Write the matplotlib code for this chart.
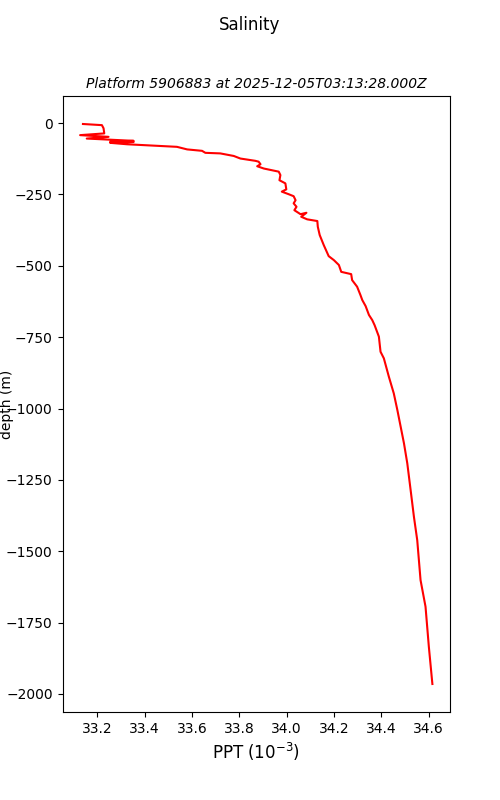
import matplotlib
matplotlib.use("Agg")
import matplotlib.pyplot as plt

# salinity profile
salinity = [33.14, 33.22, 33.227, 33.23, 33.128, 33.248, 33.156, 33.354, 33.255, 33.354,
            33.255, 33.326, 33.537, 33.58, 33.643, 33.657, 33.72, 33.777, 33.805, 33.868,
            33.882, 33.89, 33.876, 33.904, 33.967, 33.974, 33.97, 33.995, 33.999, 33.98,
            34.009, 34.03, 34.038, 34.03, 34.042, 34.033, 34.059, 34.084, 34.062, 34.087,
            34.13, 34.132, 34.14, 34.157, 34.178, 34.2, 34.221, 34.231, 34.273, 34.277,
            34.298, 34.312, 34.32, 34.334, 34.348, 34.362, 34.372, 34.39, 34.397, 34.411,
            34.432, 34.453, 34.468, 34.496, 34.51, 34.524, 34.538, 34.552, 34.559, 34.566,
            34.587, 34.601, 34.616]
depth = [-3, -7, -18, -36, -42, -48, -54, -62, -65, -66,
         -69, -74, -83, -92, -97, -104, -106, -115, -124, -132,
         -135, -144, -151, -159, -170, -182, -200, -211, -232, -240,
         -249, -256, -270, -281, -293, -305, -319, -314, -328, -337,
         -343, -363, -392, -427, -466, -480, -497, -521, -529, -550,
         -573, -602, -620, -641, -672, -690, -708, -748, -801, -824,
         -888, -947, -1005, -1122, -1192, -1285, -1379, -1461, -1531, -1601,
         -1694, -1834, -1965]

fig = plt.figure(figsize=(5, 8), dpi=100)
ax = fig.add_subplot(111)
ax.plot(salinity, depth, color="red", linewidth=1.5)
fig.suptitle("Salinity", fontsize=12)
ax.set_title("Platform 5906883 at 2025-12-05T03:13:28.000Z", fontsize=10, style="italic")
ax.set_xlabel("PPT ($10^{-3}$)", fontsize=12)
ax.set_ylabel("depth (m)")
ax.yaxis.set_label_coords(-0.125, 0.5)
fig.savefig("out.png")
